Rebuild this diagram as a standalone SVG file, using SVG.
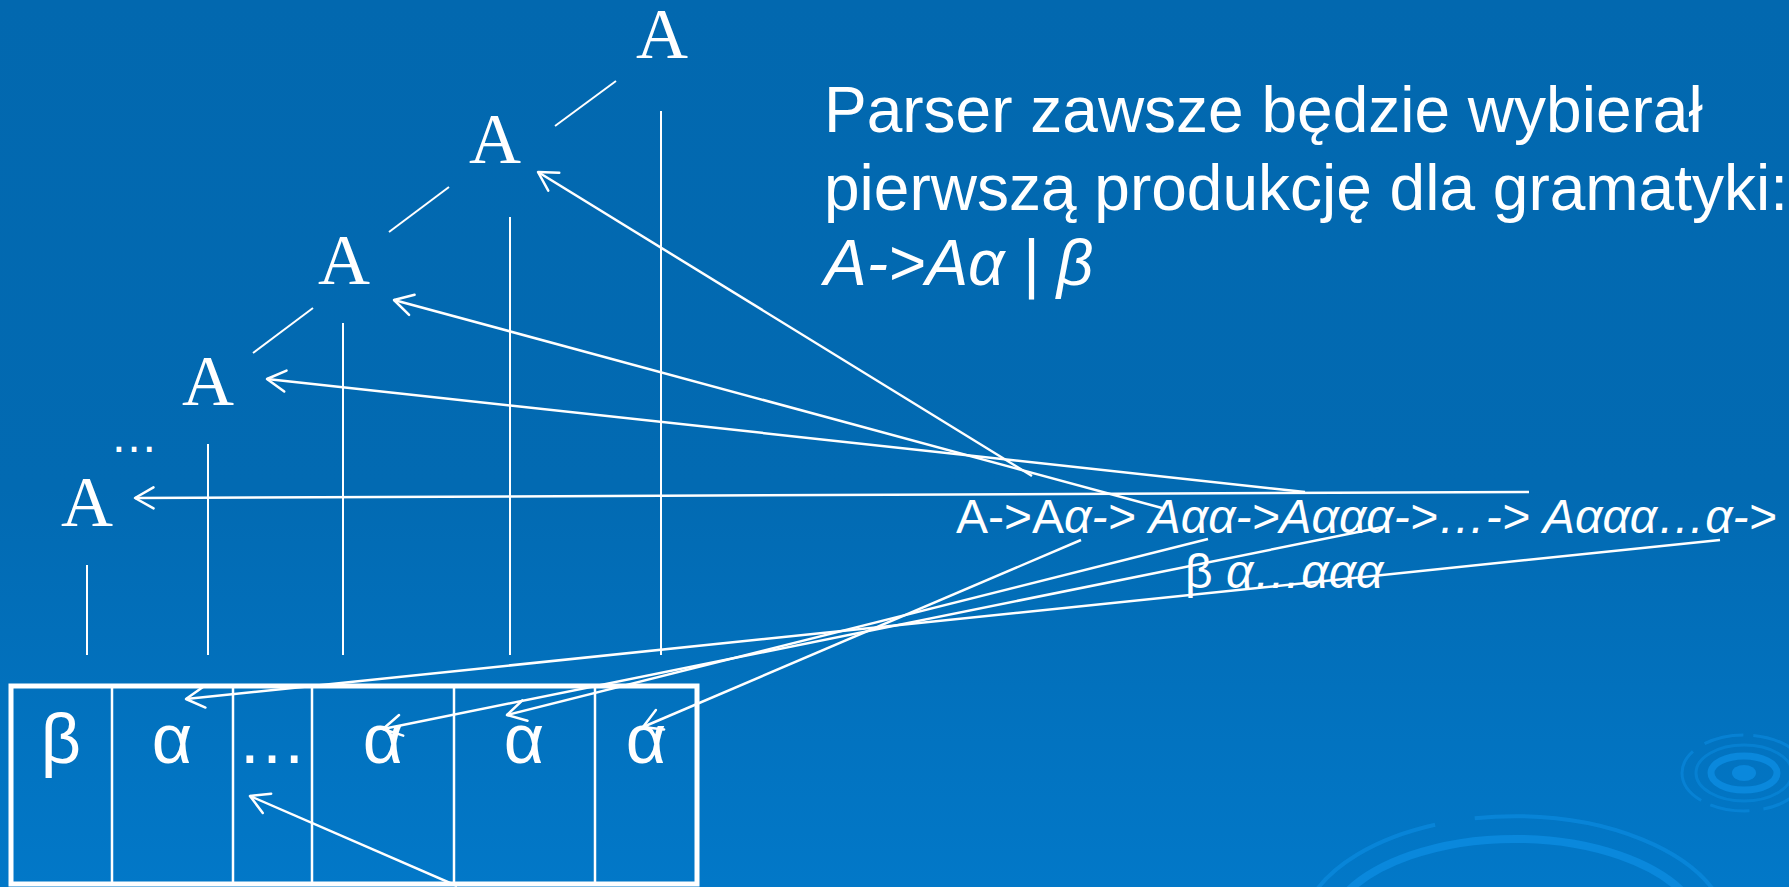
<svg xmlns="http://www.w3.org/2000/svg" width="1789" height="887" viewBox="0 0 1789 887">
<defs>
<linearGradient id="bg" x1="0" y1="0" x2="0" y2="1">
<stop offset="0" stop-color="#0268AF"/>
<stop offset="0.55" stop-color="#026AB2"/>
<stop offset="1" stop-color="#0278C8"/>
</linearGradient>
<marker id="ah" markerWidth="30" markerHeight="30" viewBox="-25 -15 30 30" refX="0" refY="0" orient="auto" markerUnits="userSpaceOnUse" overflow="visible">
<path d="M-18.5,-10.5 L0,0 L-18.5,10.5" fill="none" stroke="#fff" stroke-width="2.5" stroke-linecap="round" stroke-linejoin="round"/>
</marker>
<style>
.nodeA{font-family:"Liberation Serif","Times New Roman",serif;font-size:72px;fill:#fff;text-anchor:middle}
.cell{font-family:"Liberation Sans",Arial,sans-serif;font-size:70px;fill:#fff;text-anchor:middle}
.sans{font-family:"Liberation Sans",Arial,sans-serif;fill:#fff}
.tree{stroke:#fff;stroke-width:2;fill:none}
.arr{stroke:#fff;stroke-width:2.5;fill:none;marker-end:url(#ah)}
.div{stroke:#fff;stroke-width:2.5}
.deco{fill:none;stroke:#0A88DC}
</style>
</defs>
<rect x="0" y="0" width="1789" height="887" fill="url(#bg)"/>
<g id="decoration">
<ellipse class="deco" cx="1744" cy="773" rx="62" ry="38" stroke-width="3" stroke-dasharray="60 14 40 10" opacity="0.7"/>
<ellipse class="deco" cx="1744" cy="773" rx="48" ry="28" stroke-width="3" opacity="0.6"/>
<ellipse class="deco" cx="1744" cy="773" rx="33" ry="17" stroke-width="7"/>
<ellipse cx="1744" cy="773" rx="12" ry="8" fill="#0A88DC"/>
<path class="deco" d="M1340,900 A190,100 0 0 1 1690,900" stroke-width="8"/>
<path class="deco" d="M1310,900 A215,120 0 0 1 1720,900" stroke-width="4" stroke-dasharray="150 40 400" opacity="0.8"/>
</g>
<g id="title">
<text class="sans" x="824" y="132" font-size="64">Parser zawsze będzie wybierał</text>
<text class="sans" x="824" y="210" font-size="64">pierwszą produkcję dla gramatyki:</text>
<text class="sans" x="824" y="285" font-size="64" font-style="italic">A-&gt;Aα | β</text>
</g>
<g id="derivation">
<text class="sans" x="956" y="533" font-size="48">A-&gt;A<tspan font-style="italic">α-&gt; Aαα-&gt;Aααα-&gt;…-&gt; Aααα…α-&gt;</tspan></text>
<text class="sans" x="1185" y="588" font-size="48">β <tspan font-style="italic">α…ααα</tspan></text>
</g>
<g id="node-A1"><text class="nodeA" x="662" y="58">A</text></g>
<g id="node-A2"><text class="nodeA" x="495" y="163">A</text></g>
<g id="node-A3"><text class="nodeA" x="344" y="284">A</text></g>
<g id="node-A4"><text class="nodeA" x="208" y="405">A</text></g>
<g id="node-dots"><text class="sans" x="110" y="452" font-size="48">…</text></g>
<g id="node-A5"><text class="nodeA" x="87" y="526">A</text></g>
<g id="table">
<rect x="11" y="686" width="686" height="198" fill="none" stroke="#fff" stroke-width="5"/>
<line class="div" x1="112" y1="686" x2="112" y2="884"/>
<line class="div" x1="233" y1="686" x2="233" y2="884"/>
<line class="div" x1="312" y1="686" x2="312" y2="884"/>
<line class="div" x1="454" y1="686" x2="454" y2="884"/>
<line class="div" x1="595" y1="686" x2="595" y2="884"/>
<text class="cell" x="61" y="763">β</text>
<text class="cell" x="172" y="763">α</text>
<text class="cell" x="272" y="763">…</text>
<text class="cell" x="383" y="763">α</text>
<text class="cell" x="524" y="763">α</text>
<text class="cell" x="646" y="763">α</text>
</g>
<g id="connectors">
<line class="tree" x1="616" y1="81" x2="555" y2="126"/>
<line class="tree" x1="449" y1="187" x2="389" y2="232"/>
<line class="tree" x1="313" y1="308" x2="253" y2="353"/>
<line class="tree" x1="661" y1="111" x2="661" y2="655"/>
<line class="tree" x1="510" y1="217" x2="510" y2="655"/>
<line class="tree" x1="343" y1="323" x2="343" y2="655"/>
<line class="tree" x1="208" y1="444" x2="208" y2="655"/>
<line class="tree" x1="87" y1="565" x2="87" y2="655"/>
<line class="arr" x1="1032" y1="476" x2="538" y2="172"/>
<line class="arr" x1="1162" y1="508" x2="394" y2="300"/>
<line class="arr" x1="1305" y1="492" x2="267" y2="379"/>
<line class="arr" x1="1529" y1="492" x2="135" y2="498"/>
<line class="arr" x1="1081" y1="540" x2="643" y2="727"/>
<line class="arr" x1="1208" y1="539" x2="507" y2="715"/>
<line class="arr" x1="1383" y1="527" x2="383" y2="729"/>
<line class="arr" x1="1720" y1="540" x2="186" y2="699"/>
<line class="arr" x1="457" y1="886" x2="250" y2="796"/>
</g>
</svg>
